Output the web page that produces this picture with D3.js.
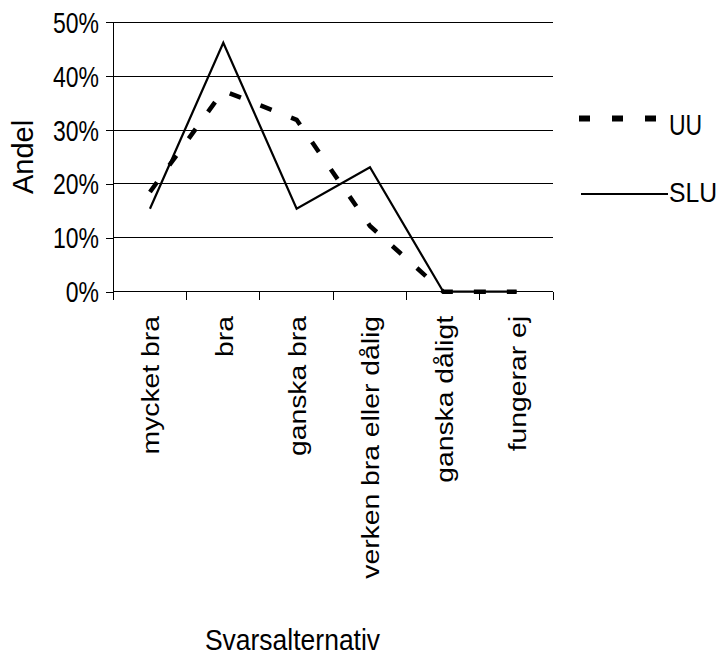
<!DOCTYPE html>
<html>
<head>
<meta charset="utf-8">
<script src="https://cdn.jsdelivr.net/npm/d3@7"></script>
<style>
  html, body { margin: 0; padding: 0; background: #fff; }
  svg { display: block; }
  text { font-family: "Liberation Sans", Arial, sans-serif; fill: #000; }
</style>
</head>
<body>
<svg id="chart" width="721" height="656"></svg>
<script>
const categories = ["mycket bra", "bra", "ganska bra", "verken bra eller dålig", "ganska dåligt", "fungerar ej"];
const seriesNames = ["UU", "SLU"];
const uuValues = [0.185, 0.373, 0.319, 0.122, 0, 0];
const sluValues = [0.154, 0.462, 0.154, 0.231, 0, 0];
const yTicks = [0, 0.1, 0.2, 0.3, 0.4, 0.5];
const yTitle = "Andel";
const xTitle = "Svarsalternativ";

const svg = d3.select("#chart");
const L = 113.3, R = 553.3, T = 22.3, B = 291.7;

const x = d3.scaleBand().domain(categories).range([L, R]).paddingInner(0).paddingOuter(0);
const y = d3.scaleLinear().domain([0, 0.5]).range([B, T]);
const cx = d => x(d) + x.bandwidth() / 2;

// gridlines
svg.append("g").selectAll("line").data(yTicks).join("line")
  .attr("x1", L).attr("x2", R)
  .attr("y1", d => y(d)).attr("y2", d => y(d))
  .attr("stroke", "#000").attr("stroke-width", 1).attr("shape-rendering", "crispEdges");

// left axis
const yAxis = d3.axisLeft(y).tickValues(yTicks).tickSize(7).tickFormat("");
const gy = svg.append("g").attr("transform", `translate(${L},0)`).call(yAxis);
gy.select(".domain").attr("d", `M0,${T}V${B}`).attr("stroke", "#000").attr("shape-rendering", "crispEdges");
gy.selectAll(".tick line").attr("stroke", "#000").attr("shape-rendering", "crispEdges");

// y tick labels (stretched vertically like the original raster)
const yLab = svg.append("g").selectAll("g").data(yTicks).join("g")
  .attr("transform", d => `translate(99,${y(d)}) scale(1,1.27)`);
yLab.append("text").attr("text-anchor", "end").attr("dy", "0.36em")
  .style("font-size", "23px").text(d => d3.format(".0%")(d));

// bottom axis
const xTickPos = d3.range(categories.length + 1).map(i => L + i * x.bandwidth());
svg.append("line").attr("x1", L).attr("x2", R).attr("y1", B).attr("y2", B)
  .attr("stroke", "#000").attr("shape-rendering", "crispEdges");
svg.append("g").selectAll("line").data(xTickPos).join("line")
  .attr("x1", d => d).attr("x2", d => d).attr("y1", B).attr("y2", B + 8)
  .attr("stroke", "#000").attr("shape-rendering", "crispEdges");

// x category labels
svg.append("g").selectAll("g").data(categories).join("g")
  .attr("transform", d => `translate(${cx(d) + 9.5},316) scale(1,1.18) rotate(-90)`)
  .append("text").attr("text-anchor", "end").style("font-size", "24px").text(d => d);

// lines
const line = d3.line().x((d, i) => cx(categories[i])).y(d => y(d));
svg.append("path").datum(uuValues).attr("d", line)
  .attr("fill", "none").attr("stroke", "#000").attr("stroke-width", 4.5)
  .attr("stroke-dasharray", "12,21").attr("stroke-linejoin", "miter");
svg.append("path").datum(sluValues).attr("d", line)
  .attr("fill", "none").attr("stroke", "#000").attr("stroke-width", 2.2)
  .attr("stroke-linejoin", "miter");

// axis titles
svg.append("g").attr("transform", "translate(33,157) rotate(-90)")
  .append("text").attr("text-anchor", "middle").style("font-size", "29px").text(yTitle);
svg.append("g").attr("transform", "translate(292.5,650) scale(1,1.12)")
  .append("text").attr("text-anchor", "middle").style("font-size", "26.5px").text(xTitle);

// legend
svg.append("line").attr("x1", 579).attr("x2", 657).attr("y1", 118.5).attr("y2", 118.5)
  .attr("stroke", "#000").attr("stroke-width", 6).attr("stroke-dasharray", "11,22");
svg.append("g").attr("transform", "translate(669,135) scale(1,1.3)")
  .append("text").style("font-size", "23px").text(seriesNames[0]);
svg.append("line").attr("x1", 581).attr("x2", 668).attr("y1", 194).attr("y2", 194)
  .attr("stroke", "#000").attr("stroke-width", 2);
svg.append("g").attr("transform", "translate(669,201.5) scale(1,1.13)")
  .append("text").style("font-size", "24.7px").text(seriesNames[1]);
</script>
</body>
</html>
